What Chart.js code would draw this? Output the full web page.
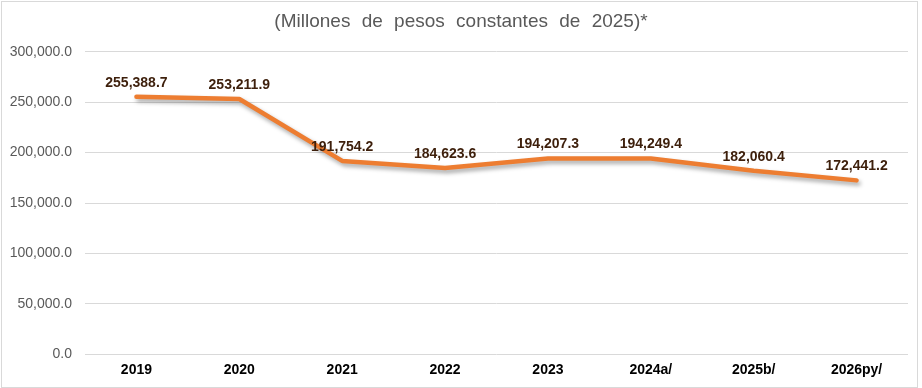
<!DOCTYPE html>
<html>
<head>
<meta charset="utf-8">
<script src="https://cdn.jsdelivr.net/npm/chart.js@4/dist/chart.umd.min.js"></script>
<style>
  html, body { margin: 0; padding: 0; background: #ffffff; }
  #wrap { position: relative; width: 922px; height: 388px; }
  #frame { position: absolute; left: 1px; top: 1px; width: 917px; height: 387px; box-sizing: border-box; border: 1px solid #d9d9d9; pointer-events: none; }
  canvas { position: absolute; left: 0; top: 0; }
</style>
</head>
<body>
<div id="wrap">
  <canvas id="c" width="922" height="388"></canvas>
  <div id="frame"></div>
</div>
<script>
const categories = ['2019', '2020', '2021', '2022', '2023', '2024a/', '2025b/', '2026py/'];
const values = [255388.7, 253211.9, 191754.2, 184623.6, 194207.3, 194249.4, 182060.4, 172441.2];
const yTicks = [0, 50000, 100000, 150000, 200000, 250000, 300000];
const titleText = '(Millones de pesos constantes de 2025)*';

const fmt = v => v.toLocaleString('en-US', { minimumFractionDigits: 1, maximumFractionDigits: 1 });

const spacingPlugin = {
  id: 'wordSpacing',
  beforeDraw(chart) { chart.ctx.wordSpacing = '6px'; },
  afterDraw(chart) { chart.ctx.wordSpacing = '0px'; }
};

const shadowPlugin = {
  id: 'lineShadow',
  beforeDatasetDraw(chart) {
    const ctx = chart.ctx;
    ctx.save();
    ctx.shadowColor = 'rgba(0,0,0,0.35)';
    ctx.shadowBlur = 4;
    ctx.shadowOffsetX = 2;
    ctx.shadowOffsetY = 3;
  },
  afterDatasetDraw(chart) {
    chart.ctx.restore();
  }
};

const labelPlugin = {
  id: 'valueLabels',
  afterDatasetsDraw(chart) {
    const ctx = chart.ctx;
    const meta = chart.getDatasetMeta(0);
    ctx.save();
    ctx.font = 'bold 14px "Liberation Sans", Arial, sans-serif';
    ctx.fillStyle = '#3D1F0B';
    ctx.textAlign = 'center';
    ctx.textBaseline = 'alphabetic';
    meta.data.forEach((pt, i) => {
      ctx.fillText(fmt(values[i]), pt.x, pt.y - 10);
    });
    ctx.restore();
  }
};

new Chart(document.getElementById('c'), {
  type: 'line',
  data: {
    labels: categories,
    datasets: [{
      data: values,
      borderColor: '#ED7D31',
      borderWidth: 4.5,
      pointRadius: 0,
      pointHoverRadius: 0,
      tension: 0,
      borderCapStyle: 'round',
      borderJoinStyle: 'round',
      fill: false
    }]
  },
  options: {
    responsive: false,
    animation: false,
    layout: { padding: { left: 0, right: 0, top: 0, bottom: 1 } },
    plugins: {
      legend: { display: false },
      tooltip: { enabled: false },
      title: {
        display: true,
        text: titleText,
        color: '#595959',
        font: { family: '"Liberation Sans", Arial, sans-serif', size: 19, weight: 'normal', lineHeight: 1.2 },
        padding: { top: 10.5, bottom: 18.5 }
      }
    },
    scales: {
      x: {
        type: 'category',
        offset: true,
        grid: { display: false, drawTicks: false },
        border: { display: false },
        ticks: {
          color: '#000000',
          padding: 8,
          font: { family: '"Liberation Sans", Arial, sans-serif', size: 14, weight: 'bold' },
          maxRotation: 0,
          autoSkip: false
        }
      },
      y: {
        min: 0,
        max: 300000,
        afterBuildTicks(scale) { scale.ticks = yTicks.map(v => ({ value: v })); },
        afterFit(scale) { scale.width = 85; },
        grid: { color: '#d9d9d9', lineWidth: 1, drawTicks: false },
        border: { display: false },
        ticks: {
          color: '#595959',
          padding: 13,
          font: { family: '"Liberation Sans", Arial, sans-serif', size: 14 },
          callback: v => fmt(v)
        }
      },
      yRight: {
        position: 'right',
        min: 0,
        max: 300000,
        afterFit(scale) { scale.width = 14; },
        grid: { display: false, drawTicks: false },
        border: { display: false },
        ticks: { display: false }
      }
    }
  },
  plugins: [spacingPlugin, shadowPlugin, labelPlugin]
});
</script>
</body>
</html>
